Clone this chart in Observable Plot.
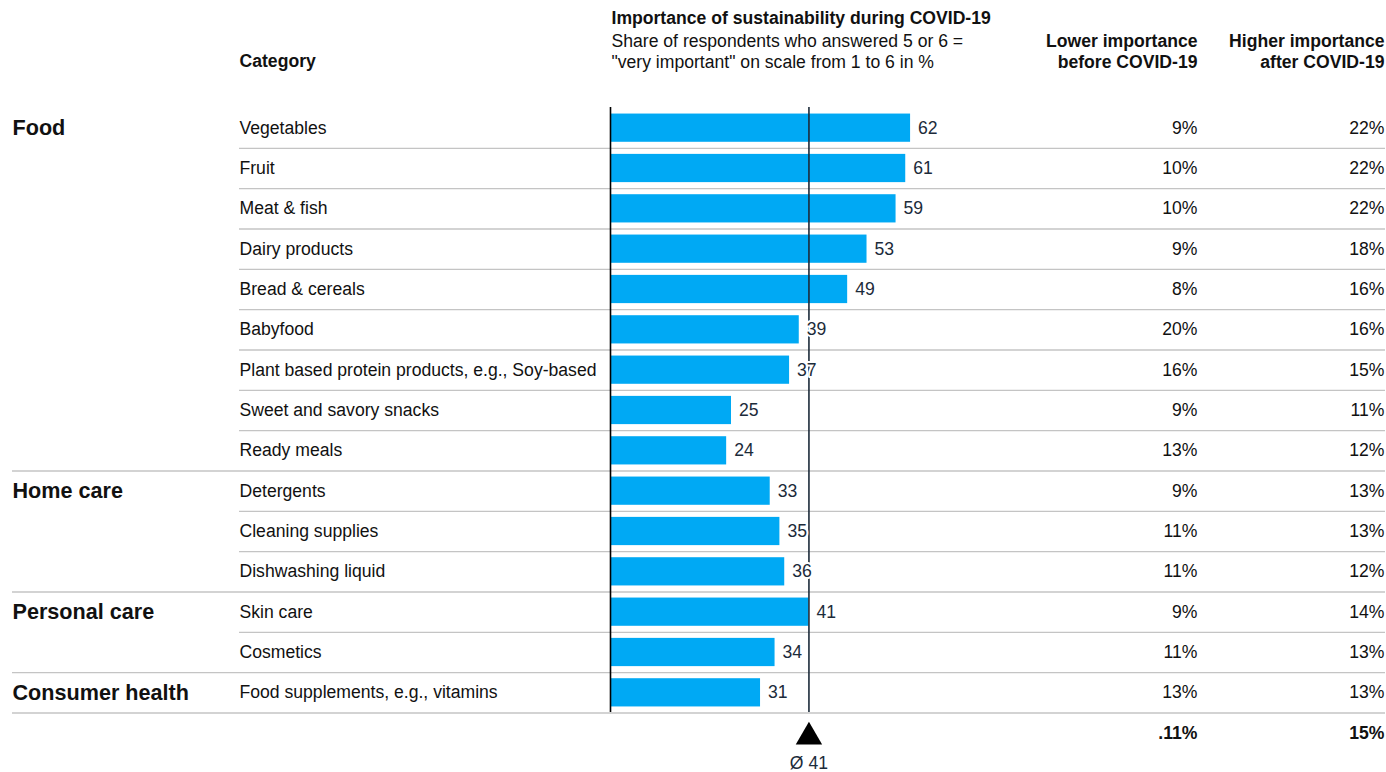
<!DOCTYPE html>
<html>
<head>
<meta charset="utf-8">
<script src="https://cdn.jsdelivr.net/npm/d3@7"></script>
<script src="https://cdn.jsdelivr.net/npm/@observablehq/plot@0.6"></script>
<style>
  html, body { margin: 0; padding: 0; background: #fff; }
  #chart { width: 1386px; height: 772px; }
</style>
</head>
<body>
<div id="chart"></div>
<script>
// ---- Data ----
const categories = [
  "Vegetables", "Fruit", "Meat & fish", "Dairy products", "Bread & cereals",
  "Babyfood", "Plant based protein products, e.g., Soy-based",
  "Sweet and savory snacks", "Ready meals",
  "Detergents", "Cleaning supplies", "Dishwashing liquid",
  "Skin care", "Cosmetics",
  "Food supplements, e.g., vitamins"
];
const groups = [
  "Food", "Food", "Food", "Food", "Food", "Food", "Food", "Food", "Food",
  "Home care", "Home care", "Home care",
  "Personal care", "Personal care",
  "Consumer health"
];
const importance = [62, 61, 59, 53, 49, 39, 37, 25, 24, 33, 35, 36, 41, 34, 31];
const lowerBefore = [9, 10, 10, 9, 8, 20, 16, 9, 13, 9, 11, 11, 9, 11, 13];
const higherAfter = [22, 22, 22, 18, 16, 16, 15, 11, 12, 13, 13, 12, 14, 13, 13];
const average = 41;
const totalLabels = [".11%", "15%"];

const titleText = "Importance of sustainability during COVID-19";
const subtitleText = "Share of respondents who answered 5 or 6 =\n\"very important\" on scale from 1 to 6 in %";
const categoryHeader = "Category";
const lowerHeader = "Lower importance\nbefore COVID-19";
const higherHeader = "Higher importance\nafter COVID-19";

// ---- Table built from the arrays ----
const rows = categories.map((c, i) => ({
  category: c,
  group: groups[i],
  value: importance[i],
  lower: lowerBefore[i],
  higher: higherAfter[i],
  groupStart: i === 0 || groups[i - 1] !== groups[i],
  groupEnd: i === categories.length - 1 || groups[i + 1] !== groups[i]
}));

// ---- Layout ----
const W = 1386, H = 772;
const TOP = 107, BOTTOM = 712;
const X0 = 610, K = 4.84;              // bar origin and pixels per percentage point
const STEP = (BOTTOM - TOP) / categories.length;
const toX = px => (px - X0) / K;        // pixel column -> x units
const COL_GROUP = 12, COL_CAT = 239, COL_LOWER = 1197, COL_HIGHER = 1384;
const FS = 17.6;
const INK = "#111111";
const NAVY = "#1c2b3a";

const chart = Plot.plot({
  width: W,
  height: H,
  marginTop: TOP,
  marginBottom: H - BOTTOM,
  marginLeft: 0,
  marginRight: 0,
  style: { fontFamily: "'Liberation Sans', Arial, sans-serif", fontSize: FS + "px", background: "#fff", color: INK },
  x: { domain: [0, 100], range: [X0, X0 + 100 * K], axis: null },
  y: {
    domain: categories, range: [TOP + 0.5, BOTTOM + 0.5],
    paddingInner: 0.3, paddingOuter: 0.15, round: false, axis: null
  },
  marks: [
    // row separators (full width at group boundaries)
    Plot.ruleY(rows, {
      y: "category", dy: STEP / 2,
      x1: d => toX(d.groupEnd ? COL_GROUP : COL_CAT), x2: toX(COL_HIGHER + 1),
      stroke: "#c4c4c4", strokeWidth: 1.4
    }),
    Plot.barX(rows, { x: "value", y: "category", fill: "#00a9f4" }),
    Plot.ruleX([0], { stroke: "#000", strokeWidth: 1.6 }),
    Plot.ruleX([average], { stroke: NAVY, strokeWidth: 1.6 }),
    // bar values, knocked out of the average line
    Plot.text(rows, {
      x: "value", y: "category", text: d => String(d.value),
      dx: 7.5, textAnchor: "start", lineAnchor: "middle", fontSize: FS, fill: NAVY,
      stroke: "#fff", strokeWidth: 4, paintOrder: "stroke"
    }),
    // category names
    Plot.text(rows, {
      y: "category", text: "category", frameAnchor: "left", dx: COL_CAT,
      textAnchor: "start", lineAnchor: "middle", fontSize: FS, fill: INK
    }),
    // group names
    Plot.text(rows.filter(d => d.groupStart), {
      y: "category", text: "group", frameAnchor: "left", dx: COL_GROUP,
      textAnchor: "start", lineAnchor: "middle", fontSize: 21.6, fontWeight: "bold", fill: INK
    }),
    // before / after columns
    Plot.text(rows, {
      y: "category", text: d => d.lower + "%", frameAnchor: "left", dx: COL_LOWER,
      textAnchor: "end", lineAnchor: "middle", fontSize: FS, fill: INK
    }),
    Plot.text(rows, {
      y: "category", text: d => d.higher + "%", frameAnchor: "left", dx: COL_HIGHER,
      textAnchor: "end", lineAnchor: "middle", fontSize: FS, fill: INK
    }),
    // column totals
    Plot.text([totalLabels[0]], {
      text: d => d, frameAnchor: "bottom-left", dx: COL_LOWER, dy: 21,
      textAnchor: "end", lineAnchor: "middle", fontSize: FS, fontWeight: "bold", fill: INK
    }),
    Plot.text([totalLabels[1]], {
      text: d => d, frameAnchor: "bottom-left", dx: COL_HIGHER, dy: 21,
      textAnchor: "end", lineAnchor: "middle", fontSize: FS, fontWeight: "bold", fill: INK
    }),
    // average marker
    Plot.dot([average], {
      x: d => d, frameAnchor: "bottom", dy: 24.5,
      symbol: "triangle", r: 9.8, fill: "#000", stroke: "none"
    }),
    Plot.text([average], {
      x: d => d, text: d => "Ø " + d, frameAnchor: "bottom", dy: 51,
      textAnchor: "middle", lineAnchor: "middle", fontSize: FS, fill: NAVY
    }),
    // headers
    Plot.text([categoryHeader], {
      text: d => d, frameAnchor: "top-left", dx: COL_CAT, dy: 61 - TOP,
      textAnchor: "start", lineAnchor: "middle", fontSize: FS, fontWeight: "bold", fill: INK
    }),
    Plot.text([titleText], {
      text: d => d, frameAnchor: "top-left", dx: X0 + 1, dy: 18 - TOP,
      textAnchor: "start", lineAnchor: "middle", fontSize: FS, fontWeight: "bold", fill: INK
    }),
    Plot.text([subtitleText], {
      text: d => d, frameAnchor: "top-left", dx: X0 + 1, dy: 50.5 - TOP,
      textAnchor: "start", lineAnchor: "middle", lineHeight: 21 / FS, fontSize: FS, fill: INK
    }),
    Plot.text([lowerHeader], {
      text: d => d, frameAnchor: "top-left", dx: COL_LOWER, dy: 50.5 - TOP,
      textAnchor: "end", lineAnchor: "middle", lineHeight: 21 / FS, fontSize: FS, fontWeight: "bold", fill: INK
    }),
    Plot.text([higherHeader], {
      text: d => d, frameAnchor: "top-left", dx: COL_HIGHER, dy: 50.5 - TOP,
      textAnchor: "end", lineAnchor: "middle", lineHeight: 21 / FS, fontSize: FS, fontWeight: "bold", fill: INK
    })
  ]
});

document.getElementById("chart").appendChild(chart);
</script>
</body>
</html>
